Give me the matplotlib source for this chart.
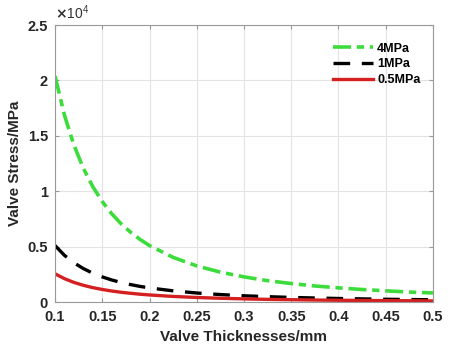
import numpy as np
import matplotlib.pyplot as plt

plt.rcParams['font.family'] = ['Liberation Sans', 'DejaVu Sans']
plt.rcParams['font.weight'] = 'bold'
plt.rcParams['axes.labelweight'] = 'bold'

# thickness (mm) and stress (MPa)
thick = [0.10, 0.11, 0.12, 0.13, 0.14, 0.15, 0.16, 0.17, 0.18, 0.19, 0.20,
         0.225, 0.25, 0.275, 0.30, 0.325, 0.35, 0.375, 0.40, 0.425, 0.45, 0.475, 0.50]
s_4mpa = [20400, 16860, 14170, 12070, 10410, 9070, 7970, 7060, 6300, 5650, 5100,
          4030, 3260, 2700, 2270, 1930, 1670, 1450, 1280, 1130, 1010, 900, 820]
s_1mpa = [5100, 4215, 3540, 3020, 2600, 2270, 1990, 1765, 1575, 1410, 1275,
          1010, 815, 675, 565, 485, 415, 365, 320, 285, 250, 225, 205]
s_05mpa = [2550, 2110, 1770, 1510, 1300, 1135, 995, 880, 790, 705, 640,
           505, 410, 340, 285, 240, 210, 180, 160, 140, 125, 115, 100]

xticks = [0.1, 0.15, 0.2, 0.25, 0.3, 0.35, 0.4, 0.45, 0.5]
yticks = [0, 0.5, 1, 1.5, 2, 2.5]
scale = 1e4

fig = plt.figure(figsize=(4.51, 3.44), dpi=100)
ax = fig.add_axes([0.122, 0.122, 0.838, 0.805])

ax.plot(thick, np.array(s_4mpa) / scale, color='#3ddc3d', lw=2.6,
        dashes=(5, 1.6, 2, 1.6), label='4MPa')
ax.plot(thick, np.array(s_1mpa) / scale, '--', color='black', lw=2.4,
        dashes=(5, 3.5), label='1MPa')
ax.plot(thick, np.array(s_05mpa) / scale, '-', color='#d42020', lw=2.4, label='0.5MPa')

ax.set_xlim(0.1, 0.5)
ax.set_ylim(0, 2.5)
ax.set_xticks(xticks)
ax.set_xticklabels([f'{v:g}' for v in xticks])
ax.set_yticks(yticks)
ax.set_yticklabels([f'{v:g}' for v in yticks])

ax.text(0.0, 1.012, r'$\times\mathregular{10^4}$', transform=ax.transAxes,
        fontsize=10, fontweight='normal', color='#333333', ha='left', va='bottom')

ax.grid(True, color='#e3e3e3', lw=0.8)
ax.tick_params(direction='in', top=True, right=True, labelsize=10.5,
               colors='#999999', labelcolor='#262626', length=3)
ax.tick_params(axis='x', pad=6)
ax.tick_params(axis='y', pad=5)
for sp in ax.spines.values():
    sp.set_color('#9a9a9a')

ax.set_xlabel('Valve Thicknesses/mm', fontsize=11, fontweight='bold',
              color='#262626', labelpad=4)
ax.set_ylabel('Valve Stress/MPa', fontsize=11, fontweight='bold',
              color='#262626', labelpad=4)

ax.legend(loc='upper right', bbox_to_anchor=(1.0, 0.982), frameon=False,
          fontsize=9, handlelength=3.2, handletextpad=0.3, labelspacing=0.3,
          borderaxespad=0.6)

fig.savefig('out.png', dpi=100)
